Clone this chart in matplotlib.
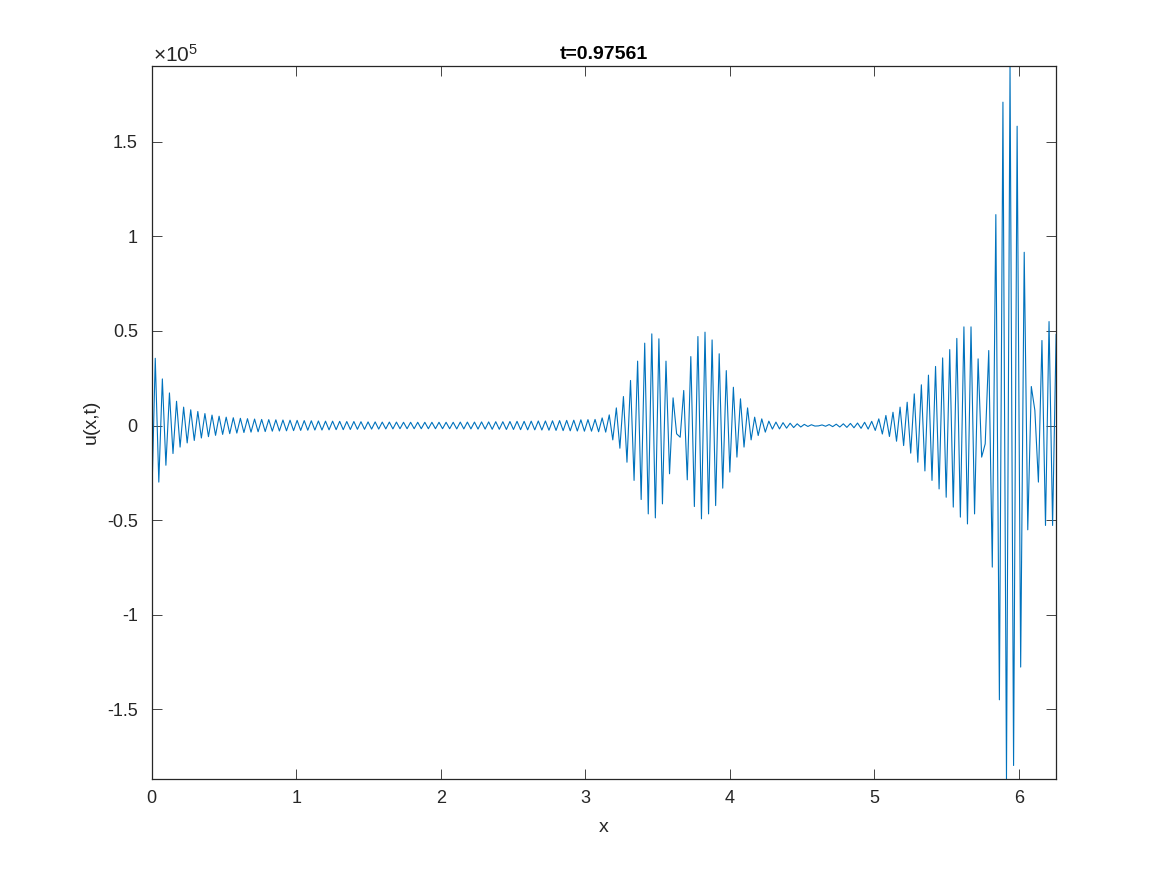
import numpy as np
import matplotlib
matplotlib.use("Agg")
import matplotlib.pyplot as plt
from matplotlib.ticker import FuncFormatter

plt.rcParams['font.family'] = ['Liberation Sans', 'DejaVu Sans']

# u(x,t), in units of 1e3, one value per grid point (256 points on [0, 2pi))
u_k = np.array([
    -41.4, 35.5, -29.9, 24.6, -21.0, 17.2, -14.8, 12.8, -11.4, 9.7,
    -9.2, 8.3, -7.9, 7.4, -6.6, 6.3, -5.9, 5.5, -5.2, 4.9,
    -4.7, 4.4, -4.3, 4.1, -4.0, 3.8, -3.7, 3.6, -3.5, 3.4,
    -3.3, 3.2, -3.2, 3.1, -3.0, 3.0, -2.9, 2.9, -2.8, 2.8,
    -2.7, 2.7, -2.6, 2.6, -2.5, 2.5, -2.4, 2.4, -2.4, 2.3,
    -2.3, 2.3, -2.2, 2.2, -2.2, 2.1, -2.1, 2.1, -2.0, 2.0,
    -2.0, 1.9, -1.9, 1.9, -1.9, 1.8, -1.8, 1.8, -1.8, 1.8,
    -1.7, 1.7, -1.7, 1.7, -1.7, 1.7, -1.7, 1.7, -1.7, 1.7,
    -1.7, 1.7, -1.7, 1.7, -1.7, 1.7, -1.8, 1.8, -1.8, 1.8,
    -1.8, 1.8, -1.9, 1.9, -1.9, 1.9, -2.0, 2.0, -2.0, 2.0,
    -2.1, 2.1, -2.1, 2.2, -2.2, 2.2, -2.3, 2.3, -2.3, 2.4,
    -2.4, 2.4, -2.5, 2.5, -2.6, 2.6, -2.7, 2.7, -2.8, 2.8,
    -2.9, 3.0, -3.0, 3.1, -3.0, 3.2, -3.3, 4.0, -3.5, 5.6,
    -7.6, 9.3, -12.0, 15.3, -19.4, 23.8, -29.0, 34.0, -39.1, 43.5,
    -46.7, 48.4, -48.8, 45.8, -41.4, 34.0, -25.5, 14.6, -4.4, -6.2,
    18.5, -28.7, 36.4, -42.8, 47.0, -49.3, 49.3, -46.7, 45.2, -42.3,
    37.9, -33.1, 29.0, -24.6, 20.2, -16.7, 14.1, -11.4, 9.3, -7.6,
    4.4, -5.3, 3.5, -3.5, 2.3, -1.9, 1.8, -1.8, 1.5, -1.4,
    1.2, -1.1, 0.9, -0.8, 0.6, -0.5, 0.4, -0.3, -0.2, 0.3,
    -0.4, 0.5, -0.6, 0.7, -0.8, 0.9, -1.0, 1.1, -1.2, 1.3,
    -1.5, 1.7, -1.9, 2.2, -2.6, 3.5, -4.5, 5.3, -5.8, 7.0,
    -8.3, 9.7, -10.6, 12.3, -14.6, 16.7, -19.4, 21.5, -24.0, 26.6,
    -29.0, 31.2, -33.5, 35.7, -37.9, 40.1, -43.1, 46.0, -48.4, 52.1,
    -52.0, 52.1, -46.7, 35.2, -16.7, -9.7, 39.6, -74.8, 111.4, -144.9,
    170.8, -186.6, 190.1, -179.6, 158.1, -127.6, 91.5, -55.1, 20.6, 8.0,
    -29.9, 44.9, -52.8, 54.9, -52.8, 48.1,
])
n_points = 256
x = np.linspace(0, 2 * np.pi, n_points, endpoint=False)

title_text = 't=0.97561'
x_ticks = [0, 1, 2, 3, 4, 5, 6]
y_ticks = [-1.5, -1, -0.5, 0, 0.5, 1, 1.5]

u = u_k / 100.0  # plotted in units of 1e5

fig = plt.figure(figsize=(11.67, 8.75), dpi=100)
ax = fig.add_axes([0.13, 0.11, 0.775, 0.815])
ax.plot(x, u, color='#0072BD', linewidth=0.8)

# axis tight, like matlab
ax.set_xlim(x[0], x[-1])
ax.set_ylim(u.min(), u.max())
ax.set_xticks(x_ticks)
ax.set_yticks(y_ticks)
ax.yaxis.set_major_formatter(FuncFormatter(lambda v, p: '%g' % v))
ax.xaxis.set_major_formatter(FuncFormatter(lambda v, p: '%g' % v))

ax.tick_params(direction='in', length=7, width=0.6, top=True, right=True,
               labelsize=13, colors='#262626')
ax.tick_params(axis='x', pad=8)
ax.tick_params(axis='y', pad=10)
for s in ax.spines.values():
    s.set_color('#262626')
    s.set_linewidth(0.9)

ax.set_title(title_text, fontsize=14, fontweight='bold', pad=5)
ax.set_xlabel('x', fontsize=14, color='#262626', labelpad=9)
ax.set_ylabel('u(x,t)', fontsize=14, color='#262626', labelpad=5)
ax.text(0.001, 1.005, r'$\mathregular{\times10^{5}}$', transform=ax.transAxes,
        fontsize=15, va='baseline', ha='left', color='#262626')

fig.savefig('out.png', dpi=100)
